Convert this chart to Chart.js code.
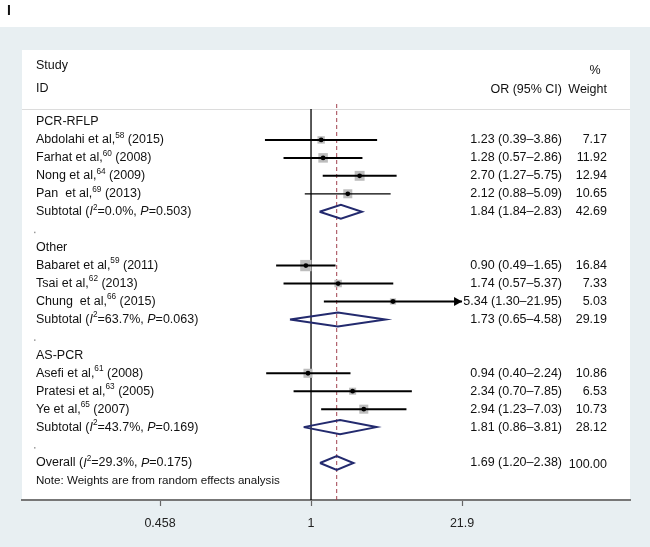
<!DOCTYPE html>
<html>
<head>
<meta charset="utf-8">
<script src="https://cdn.jsdelivr.net/npm/chart.js@4.4.1/dist/chart.umd.min.js"></script>
<style>
  body { margin: 0; background: #fff; }
  canvas { display: block; }
</style>
</head>
<body>
<canvas id="forest" width="650" height="547"></canvas>
<script>
// data
var groupNames = ['PCR-RFLP', 'Other', 'AS-PCR'];

var studyAuthors = ['Abdolahi et al,', 'Farhat et al,', 'Nong et al,', 'Pan  et al,',
                    'Babaret et al,', 'Tsai et al,', 'Chung  et al,',
                    'Asefi et al,', 'Pratesi et al,', 'Ye et al,'];
var studyRefs = ['58', '60', '64', '69', '59', '62', '66', '61', '63', '65'];
var studyYears = ['(2015)', '(2008)', '(2009)', '(2013)', '(2011)', '(2013)', '(2015)', '(2008)', '(2005)', '(2007)'];
var studyGroup = [0, 0, 0, 0, 1, 1, 1, 2, 2, 2];
var studyOR = [1.23, 1.28, 2.70, 2.12, 0.90, 1.74, 5.34, 0.94, 2.34, 2.94];
var studyLow = [0.39, 0.57, 1.27, 0.88, 0.49, 0.57, 1.30, 0.40, 0.70, 1.23];
var studyHigh = [3.86, 2.86, 5.75, 5.09, 1.65, 5.37, 21.95, 2.24, 7.85, 7.03];
var studyWeight = [7.17, 11.92, 12.94, 10.65, 16.84, 7.33, 5.03, 10.86, 6.53, 10.73];

var subtotalOR = [1.84, 1.73, 1.81];
var subtotalLow = [1.19, 0.65, 0.86];   // diamond edge as drawn
var subtotalHigh = [2.83, 4.58, 3.81];
var subtotalCI = ['1.84 (1.84\u20132.83)', '1.73 (0.65\u20134.58)', '1.81 (0.86\u20133.81)'];
var subtotalI2 = ['0.0', '63.7', '43.7'];
var subtotalP = ['0.503', '0.063', '0.169'];
var subtotalWeight = [42.69, 29.19, 28.12];

var overallOR = 1.69, overallLow = 1.20, overallHigh = 2.38;
var overallI2 = '29.3', overallP = '0.175', overallWeight = 100.00;

var tickValues = [0.0457, 1, 21.9];
var tickLabels = ['0.458', '1', '21.9'];

var FONT = '"Liberation Sans", Arial, Helvetica, sans-serif';

// row layout
var groupRow = [], studyRow = [], subtotalRow = [], blankRow = [];
var r = 0;
groupNames.forEach(function(g, gi) {
    groupRow.push(r); r++;
    studyGroup.forEach(function(sg, si) {
        if (sg === gi) { studyRow[si] = r; r++; }
    });
    subtotalRow.push(r); r++;
    blankRow.push(r); r++;
});
var overallRow = r;
var noteRow = r + 1;

var yMin = -4.01, yMax = 21.06;
var sepRow = -0.72;
var arrowAt = tickValues[2];
var dh = 0.39;

function fmt(v) { return v.toFixed(2); }

function diamond(est, lo, hi, row) {
    return [{x: lo, y: row}, {x: est, y: row - dh}, {x: hi, y: row}, {x: est, y: row + dh}, {x: lo, y: row}];
}

var datasets = [];

// centre dots
datasets.push({
    data: studyOR.map(function(v, i) { return {x: v, y: studyRow[i]}; }),
    pointRadius: 2.4, pointBackgroundColor: '#000', pointBorderWidth: 0, order: 0
});

// CI lines
studyOR.forEach(function(v, i) {
    datasets.push({
        data: [{x: studyLow[i], y: studyRow[i]}, {x: Math.min(studyHigh[i], arrowAt), y: studyRow[i]}],
        showLine: true, borderColor: '#000', borderWidth: i === 3 ? 1.2 : 2,
        pointRadius: 0, order: 1
    });
});

// weight boxes
datasets.push({
    data: studyOR.map(function(v, i) { return {x: v, y: studyRow[i]}; }),
    pointStyle: 'rect',
    pointRadius: function(c) { return 1.95 * Math.sqrt(studyWeight[c.dataIndex]); },
    pointBackgroundColor: '#bdbdbd', pointBorderWidth: 0, order: 3
});

// diamonds
subtotalOR.forEach(function(v, i) {
    datasets.push({
        data: diamond(v, subtotalLow[i], subtotalHigh[i], subtotalRow[i]),
        showLine: true, borderColor: '#232a6e', borderWidth: 2, borderJoinStyle: 'miter',
        pointRadius: 0, order: 1
    });
});
datasets.push({
    data: diamond(overallOR, overallLow, overallHigh, overallRow),
    showLine: true, borderColor: '#232a6e', borderWidth: 2, borderJoinStyle: 'miter',
    pointRadius: 0, order: 1
});

// overall effect dashed line and null line
datasets.push({
    data: [{x: overallOR, y: -1.0}, {x: overallOR, y: yMax}],
    showLine: true, borderColor: '#a0404e', borderWidth: 1, borderDash: [4, 3],
    pointRadius: 0, order: 4
});
datasets.push({
    data: [{x: 1, y: sepRow}, {x: 1, y: yMax}],
    showLine: true, borderColor: '#000', borderWidth: 1.3,
    pointRadius: 0, order: 4
});

function drawRich(ctx, parts, x, y, size) {
    parts.forEach(function(p) {
        var f = size, dy = 0, st = '';
        if (p.sup) { f = size * 0.66; dy = -size * 0.36; }
        if (p.it) st = 'italic ';
        ctx.font = st + f + 'px ' + FONT;
        ctx.fillText(p.t, x, y + dy);
        x += ctx.measureText(p.t).width;
    });
}

function hetParts(label, i2, p) {
    return [{t: label + ' ('}, {t: 'I', it: true}, {t: '2', sup: true},
            {t: '=' + i2 + '%, '}, {t: 'P', it: true}, {t: '=' + p + ')'}];
}

var backdrop = {
    id: 'backdrop',
    beforeDraw: function(chart) {
        var ctx = chart.ctx, a = chart.chartArea;
        ctx.save();
        ctx.fillStyle = '#ffffff';
        ctx.fillRect(0, 0, chart.width, chart.height);
        ctx.fillStyle = '#e8eff2';
        ctx.fillRect(0, 27, chart.width, chart.height - 27);
        ctx.fillStyle = '#ffffff';
        ctx.fillRect(a.left, a.top, a.right - a.left, a.bottom - a.top);
        var ys = chart.scales.y.getPixelForValue(sepRow);
        ctx.fillStyle = '#dcdcdc';
        ctx.fillRect(a.left, Math.round(ys), a.right - a.left, 1);
        ctx.restore();
    }
};

var labels = {
    id: 'labels',
    afterDraw: function(chart) {
        var ctx = chart.ctx, ys = chart.scales.y, xs = chart.scales.x;
        var size = 12.5, xName = 36, xCI = 562, xW = 607;
        ctx.save();
        ctx.fillStyle = '#111';
        ctx.textBaseline = 'middle';

        ctx.font = 'bold 14px ' + FONT;
        ctx.textAlign = 'left';
        ctx.fillText('I', 7, 11);

        ctx.font = size + 'px ' + FONT;
        ctx.fillText('Study', xName, 66);
        ctx.fillText('ID', xName, 89);
        ctx.textAlign = 'right';
        ctx.fillText('OR (95% CI)', xCI, 90);
        ctx.fillText('Weight', xW, 90);
        ctx.textAlign = 'center';
        ctx.fillText('%', 595, 71);

        groupNames.forEach(function(g, gi) {
            var y = ys.getPixelForValue(groupRow[gi]);
            ctx.textAlign = 'left';
            ctx.font = size + 'px ' + FONT;
            ctx.fillText(g, xName, y);

            y = ys.getPixelForValue(subtotalRow[gi]);
            drawRich(ctx, hetParts('Subtotal', subtotalI2[gi], subtotalP[gi]), xName, y, size);
            ctx.font = size + 'px ' + FONT;
            ctx.textAlign = 'right';
            ctx.fillText(subtotalCI[gi], xCI, y);
            ctx.fillText(fmt(subtotalWeight[gi]), xW, y);

            ctx.fillStyle = '#999';
            ctx.fillRect(34, ys.getPixelForValue(blankRow[gi]) + 2, 1.5, 1.5);
            ctx.fillStyle = '#111';
        });

        studyOR.forEach(function(v, i) {
            var y = ys.getPixelForValue(studyRow[i]);
            ctx.textAlign = 'left';
            drawRich(ctx, [{t: studyAuthors[i]}, {t: studyRefs[i], sup: true}, {t: ' ' + studyYears[i]}], xName, y, size);
            ctx.font = size + 'px ' + FONT;
            ctx.textAlign = 'right';
            ctx.fillText(fmt(v) + ' (' + fmt(studyLow[i]) + '\u2013' + fmt(studyHigh[i]) + ')', xCI, y);
            ctx.fillText(fmt(studyWeight[i]), xW, y);

            // arrow where the CI runs past the axis
            if (studyHigh[i] > arrowAt) {
                var xp = xs.getPixelForValue(arrowAt);
                ctx.beginPath();
                ctx.moveTo(xp, y);
                ctx.lineTo(xp - 8, y - 4.5);
                ctx.lineTo(xp - 8, y + 4.5);
                ctx.closePath();
                ctx.fillStyle = '#000';
                ctx.fill();
                ctx.fillStyle = '#111';
            }
        });

        var yo = ys.getPixelForValue(overallRow);
        ctx.textAlign = 'left';
        drawRich(ctx, hetParts('Overall', overallI2, overallP), xName, yo, size);
        ctx.font = size + 'px ' + FONT;
        ctx.textAlign = 'right';
        ctx.fillText(fmt(overallOR) + ' (' + fmt(overallLow) + '\u2013' + fmt(overallHigh) + ')', xCI, yo);
        ctx.fillText(fmt(overallWeight), xW, yo + 2);

        ctx.textAlign = 'left';
        ctx.font = '11.6px ' + FONT;
        ctx.fillText('Note: Weights are from random effects analysis', xName, ys.getPixelForValue(noteRow));
        ctx.restore();
    }
};

var chart = new Chart(document.getElementById('forest'), {
    type: 'scatter',
    data: { datasets: datasets },
    options: {
        responsive: false,
        animation: false,
        layout: { padding: { left: 22, right: 20, top: 50, bottom: 0 } },
        plugins: { legend: { display: false }, tooltip: { enabled: false } },
        scales: {
            x: {
                type: 'logarithmic',
                min: 0.00272,
                max: 678,
                afterBuildTicks: function(s) { s.ticks = tickValues.map(function(v) { return {value: v}; }); },
                afterFit: function(s) { s.height = 47; },
                ticks: {
                    callback: function(v, i) { return tickLabels[i]; },
                    autoSkip: false, maxRotation: 0, padding: 10,
                    color: '#222', font: { size: 12.5, family: FONT }
                },
                grid: { drawOnChartArea: false, drawTicks: true, tickLength: 6, color: '#666', tickWidth: 1.2 },
                border: { color: '#777', width: 2 }
            },
            y: { type: 'linear', display: false, reverse: true, min: yMin, max: yMax }
        }
    },
    plugins: [backdrop, labels]
});
</script>
</body>
</html>
